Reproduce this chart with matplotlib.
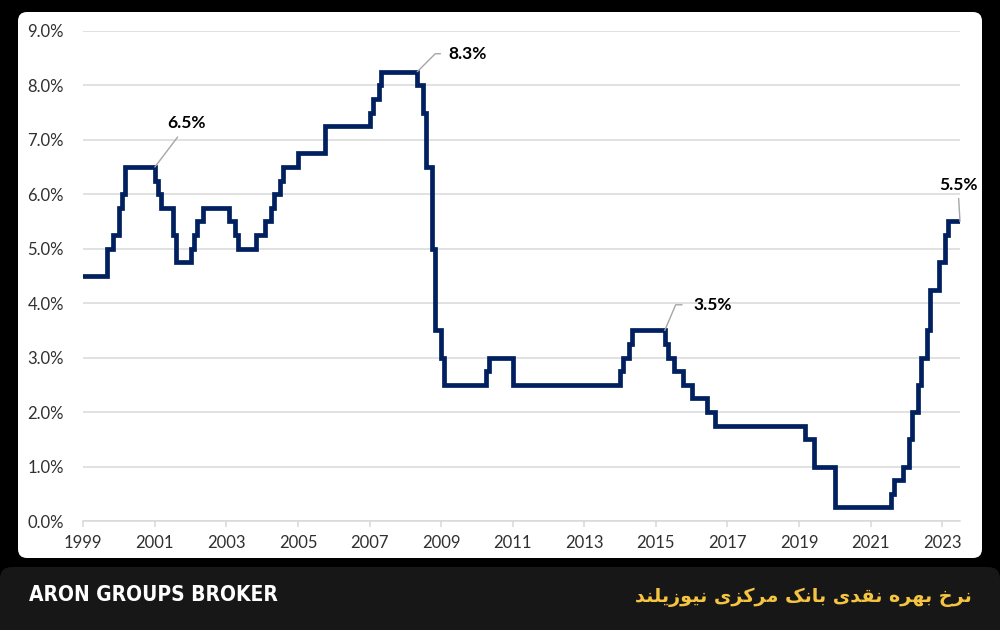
import matplotlib.pyplot as plt
from matplotlib.patches import FancyBboxPatch

# --- data: NZ official cash rate, change dates (YYYY-MM) and new level (%) ---
rate_dates = ['1999-03', '1999-11', '2000-01', '2000-03', '2000-04', '2000-05',
              '2001-03', '2001-04', '2001-05', '2001-09', '2001-10',
              '2002-03', '2002-04', '2002-05', '2002-07',
              '2003-04', '2003-06', '2003-07',
              '2004-01', '2004-04', '2004-06', '2004-07', '2004-09', '2004-10',
              '2005-03', '2005-12', '2007-03', '2007-04', '2007-06', '2007-07',
              '2008-07', '2008-09', '2008-10', '2008-12',
              '2009-01', '2009-03', '2009-04', '2010-06', '2010-07', '2011-03',
              '2014-03', '2014-04', '2014-06', '2014-07',
              '2015-06', '2015-07', '2015-09', '2015-12',
              '2016-03', '2016-08', '2016-11', '2019-05', '2019-08', '2020-03',
              '2021-10', '2021-11', '2022-02', '2022-04', '2022-05', '2022-07',
              '2022-08', '2022-10', '2022-11', '2023-02', '2023-04', '2023-05',
              '2023-09']
rate_values = [4.50, 5.00, 5.25, 5.75, 6.00, 6.50,
               6.25, 6.00, 5.75, 5.25, 4.75,
               5.00, 5.25, 5.50, 5.75,
               5.50, 5.25, 5.00,
               5.25, 5.50, 5.75, 6.00, 6.25, 6.50,
               6.75, 7.25, 7.50, 7.75, 8.00, 8.25,
               8.00, 7.50, 6.50, 5.00,
               3.50, 3.00, 2.50, 2.75, 3.00, 2.50,
               2.75, 3.00, 3.25, 3.50,
               3.25, 3.00, 2.75, 2.50,
               2.25, 2.00, 1.75, 1.50, 1.00, 0.25,
               0.50, 0.75, 1.00, 1.50, 2.00, 2.50,
               3.00, 3.50, 4.25, 4.75, 5.25, 5.50,
               5.50]

tick_years = list(range(1999, 2024, 2))
y_ticks = [0, 1, 2, 3, 4, 5, 6, 7, 8, 9]

# callouts: label, date of the marked point, level of the marked point
callout_labels = ['6.5%', '8.3%', '3.5%', '5.5%']
callout_dates = ['2001-03', '2008-07', '2015-06', '2023-09']
callout_levels = [6.5, 8.25, 3.5, 5.5]

brand_text = 'ARON GROUPS BROKER'
title_text = 'نرخ بهره نقدی بانک مرکزی نیوزیلند'


def to_year(s):
    y, m = s.split('-')
    return int(y) + (int(m) - 1) / 12


# --- minimal Persian shaping (presentation forms + visual order) ---
FORMS = {
    'ا': ('\uFE8D', '\uFE8E'),
    'د': ('\uFEA9', '\uFEAA'),
    'ر': ('\uFEAD', '\uFEAE'),
    'ز': ('\uFEAF', '\uFEB0'),
    'و': ('\uFEED', '\uFEEE'),
    'ب': ('\uFE8F', '\uFE90', '\uFE91', '\uFE92'),
    'خ': ('\uFEA5', '\uFEA6', '\uFEA7', '\uFEA8'),
    'ق': ('\uFED5', '\uFED6', '\uFED7', '\uFED8'),
    'ل': ('\uFEDD', '\uFEDE', '\uFEDF', '\uFEE0'),
    'م': ('\uFEE1', '\uFEE2', '\uFEE3', '\uFEE4'),
    'ن': ('\uFEE5', '\uFEE6', '\uFEE7', '\uFEE8'),
    'ه': ('\uFEE9', '\uFEEA', '\uFEEB', '\uFEEC'),
    'ی': ('\uFBFC', '\uFBFD', '\uFBFE', '\uFBFF'),
    'ک': ('\uFB8E', '\uFB8F', '\uFB90', '\uFB91'),
}


def shape(text):
    out = []
    for i, ch in enumerate(text):
        forms = FORMS.get(ch)
        if forms is None:
            out.append(ch)
            continue
        prev = text[i - 1] if i > 0 else ''
        nxt = text[i + 1] if i + 1 < len(text) else ''
        jp = prev in FORMS and len(FORMS[prev]) == 4
        jn = len(forms) == 4 and nxt in FORMS
        if jp and jn:
            out.append(forms[3])
        elif jp:
            out.append(forms[1])
        elif jn:
            out.append(forms[2])
        else:
            out.append(forms[0])
    return ''.join(out)[::-1]


x = [to_year(d) for d in rate_dates]

fig = plt.figure(figsize=(10, 6.3), dpi=100, facecolor='black')

# white rounded panel and dark footer band (behind the axes)
fig.patches.append(FancyBboxPatch((0.18, 0.72), 9.64, 5.46,
                                  boxstyle='round,pad=0,rounding_size=0.09',
                                  transform=fig.dpi_scale_trans,
                                  facecolor='white', edgecolor='none', zorder=-5))
fig.patches.append(FancyBboxPatch((0.0, -0.2), 10.0, 0.83,
                                  boxstyle='round,pad=0,rounding_size=0.12',
                                  transform=fig.dpi_scale_trans,
                                  facecolor='#171717', edgecolor='none', zorder=-5))

ax = fig.add_axes([0.0833, 0.173, 0.8767, 0.778])
ax.set_facecolor('none')

ax.plot(x, rate_values, drawstyle='steps-post', color='#002060',
        linewidth=3.4, solid_joinstyle='miter', zorder=3)

ax.set_xlim(x[0], x[-1])
ax.set_ylim(0, 9)
ax.set_yticks(y_ticks)
ax.set_yticklabels([f'{v:.1f}%' for v in y_ticks])
ax.set_xticks([t + 2 / 12 for t in tick_years])
ax.set_xticklabels([str(t) for t in tick_years])

ax.grid(axis='y', color='#d9d9d9', linewidth=1.1)
ax.set_axisbelow(True)
for s in ['top', 'right', 'left']:
    ax.spines[s].set_visible(False)
ax.spines['bottom'].set_color('#d9d9d9')
ax.spines['bottom'].set_linewidth(1.1)
ax.tick_params(axis='y', length=0, pad=14, labelsize=12, labelcolor='#303030')
ax.tick_params(axis='x', length=4, width=1.1, color='#d9d9d9', pad=6,
               labelsize=12, labelcolor='#303030')
for lab in ax.get_xticklabels() + ax.get_yticklabels():
    lab.set_fontfamily('Lato')

# callouts with grey leader lines
lead = dict(arrowstyle='-', color='#a6a6a6', lw=1.0, shrinkB=0)
ax.annotate(callout_labels[0], xy=(to_year(callout_dates[0]), callout_levels[0]),
            xytext=(2002.04, 7.31), ha='center', va='center', fontsize=12.5,
            fontweight='bold', family='Lato',
            arrowprops=dict(**lead, shrinkA=3, relpos=(0.4, 0.0)))
ax.annotate(callout_labels[1], xy=(to_year(callout_dates[1]), callout_levels[1]),
            xytext=(2009.38, 8.58), ha='left', va='center', fontsize=12.5,
            fontweight='bold', family='Lato',
            arrowprops=dict(**lead, shrinkA=4, relpos=(0.0, 0.5),
                            connectionstyle='angle,angleA=0,angleB=45,rad=0'))
ax.annotate(callout_labels[2], xy=(to_year(callout_dates[2]), callout_levels[2]),
            xytext=(2016.21, 3.97), ha='left', va='center', fontsize=12.5,
            fontweight='bold', family='Lato',
            arrowprops=dict(**lead, shrinkA=6, relpos=(0.0, 0.5),
                            connectionstyle='angle,angleA=0,angleB=67,rad=0'))
ax.annotate(callout_labels[3], xy=(to_year(callout_dates[3]), callout_levels[3]),
            xytext=(2023.62, 6.17), ha='center', va='center', fontsize=12.5,
            fontweight='bold', family='Lato', annotation_clip=False,
            arrowprops=dict(**lead, shrinkA=2, relpos=(0.5, 0.0)))

fig.text(0.029, 0.055, brand_text, color='white', fontsize=15,
         fontweight='bold', fontstretch='condensed', family='DejaVu Sans',
         ha='left', va='center')
fig.text(0.972, 0.052, shape(title_text), color='#f5c542', fontsize=13.8,
         fontweight='bold', family=['DejaVu Sans'], ha='right', va='center')

fig.savefig('out.png', dpi=100, facecolor='black')
